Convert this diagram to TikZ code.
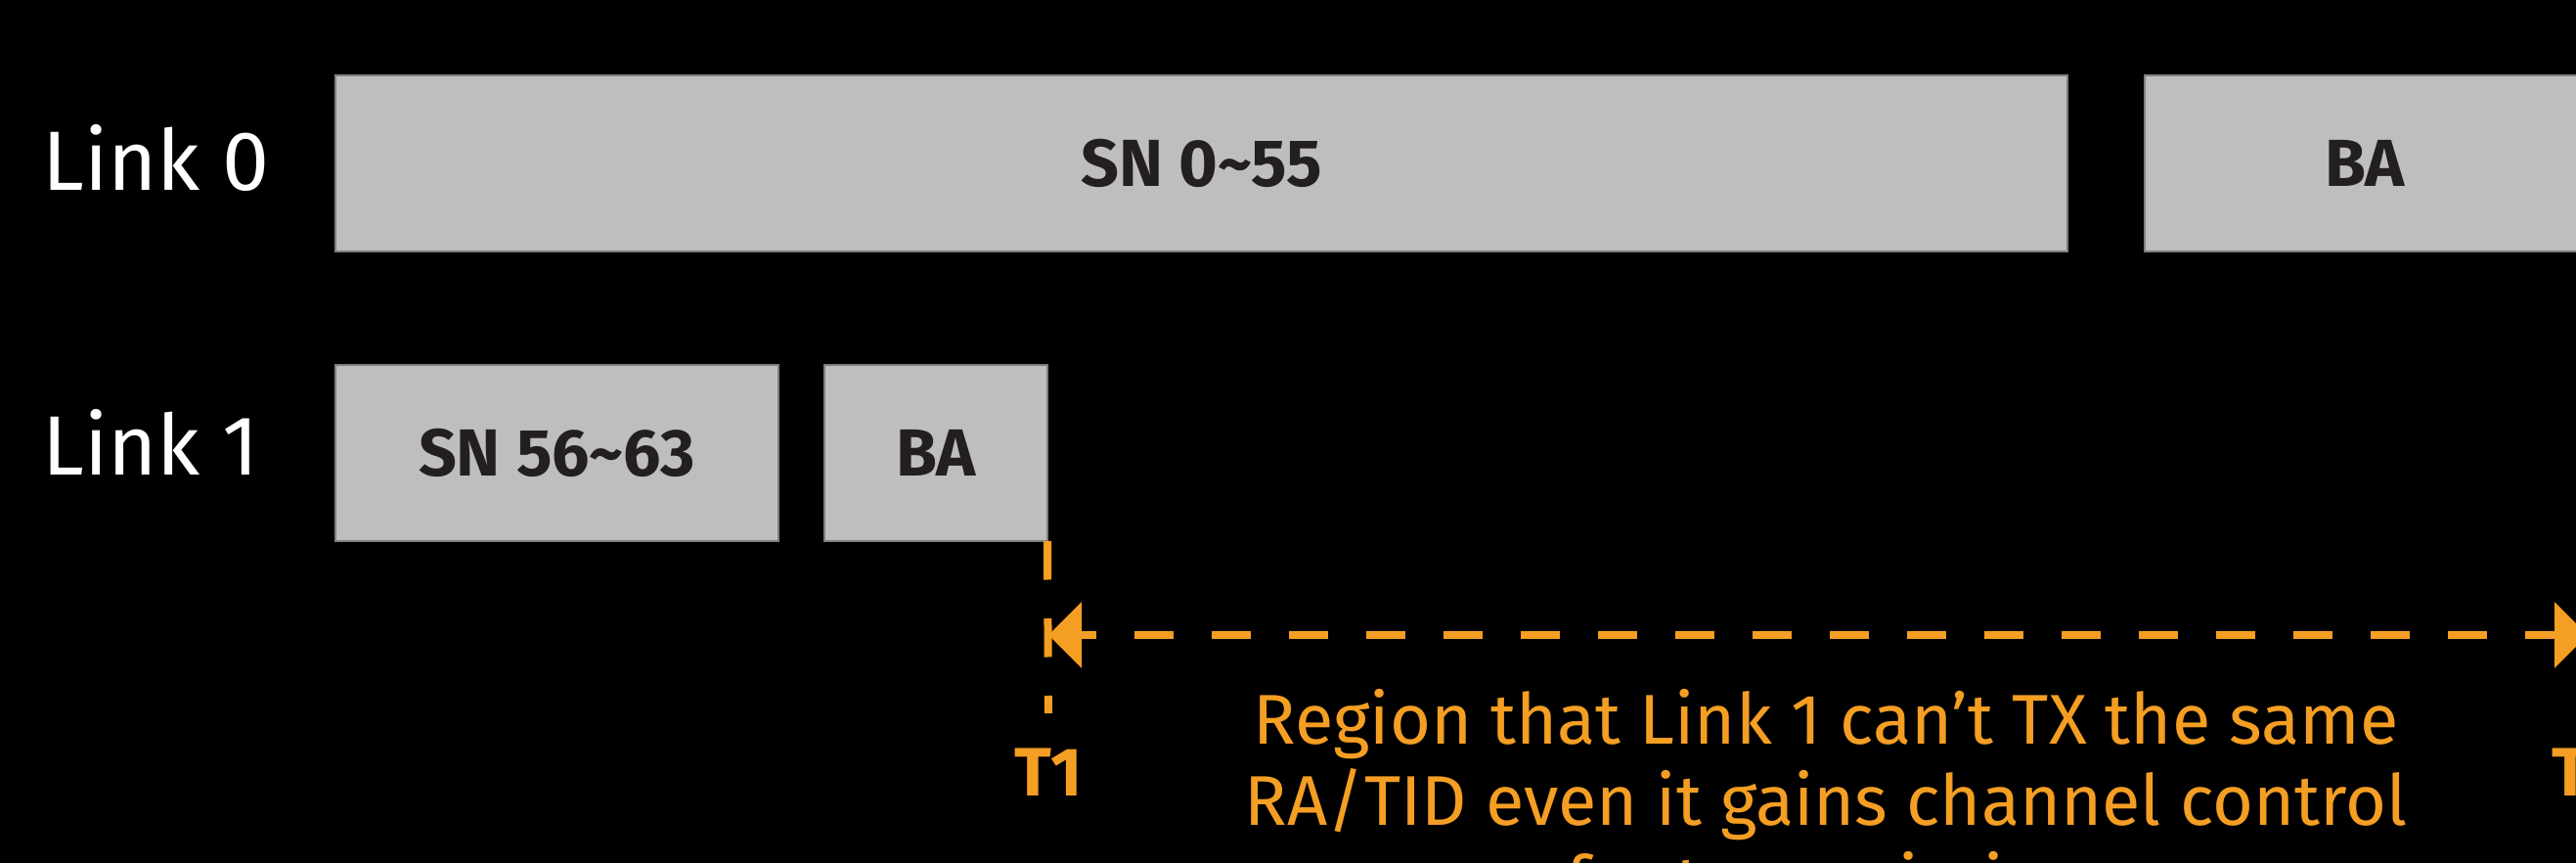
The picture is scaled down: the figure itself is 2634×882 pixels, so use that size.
\documentclass[tikz,border=0pt]{standalone}
\usepackage{fontspec}
\setmainfont{Fira Sans}
\usetikzlibrary{arrows.meta}
\definecolor{boxgray}{HTML}{BEBEBE}
\definecolor{edgegray}{HTML}{7F7F7F}
\definecolor{ink}{HTML}{231F20}
\definecolor{amber}{HTML}{F49E23}
\tikzset{otip/.tip={Triangle[length=17pt,width=33pt]}}
\begin{document}
\begin{tikzpicture}[x=0.5pt,y=-0.5pt,
  frame/.style={draw=edgegray, line width=0.75pt, fill=boxgray, inner sep=0pt, outer sep=0pt,
    text=ink, font=\fontsize{34}{40}\selectfont\bfseries},
  linklabel/.style={text=white, font=\fontsize{43}{52}\selectfont, anchor=base west, inner sep=0pt},
  tlabel/.style={text=amber, font=\fontsize{35}{42}\selectfont\bfseries, anchor=base, inner sep=0pt},
  odash/.style={draw=amber, line width=4pt, dash pattern=on 19.75pt off 19.75pt},
  note/.style={text=amber, font=\fontsize{36}{41.5}\selectfont, align=center, anchor=base, inner sep=0pt}
]
\fill[black] (0,0) rectangle (2634,882);
\useasboundingbox (0,0) rectangle (2634,882);

% Link labels
\node[linklabel] (l0) at (43,195) {Link 0};
\node[linklabel] (l1) at (43,485) {Link 1};

% Link 0 frames
\node[frame, minimum width=885.5pt, minimum height=90pt] (sn0) at (1228.5,167) {SN 0\char`~55};
\node[frame, minimum width=225pt, minimum height=90pt] (ba0) at (2418,167) {BA};

% Link 1 frames
\node[frame, minimum width=226.5pt, minimum height=90pt] (sn1) at (569.5,463) {SN 56\char`~63};
\node[frame, minimum width=114pt, minimum height=90pt] (ba1) at (957,463) {BA};

% markers
\coordinate (t1end) at (1072,729);
\coordinate (t1mid) at (1072,649);
\coordinate (t2mid) at (2646,649);

\draw[odash] (ba1.south east) -- (t1end);
\draw[odash, dash phase=11.5pt, otip-otip] (t1mid) -- (t2mid);

\node[tlabel] (t1) at (1072,813) {T1};
\node[tlabel] (t2) at (2646,813) {T2};

\node[note] (txt) at (1867,926) {Region that Link 1 can't TX the same\\RA/TID even it gains channel control\\for transmission};
\end{tikzpicture}
\end{document}
